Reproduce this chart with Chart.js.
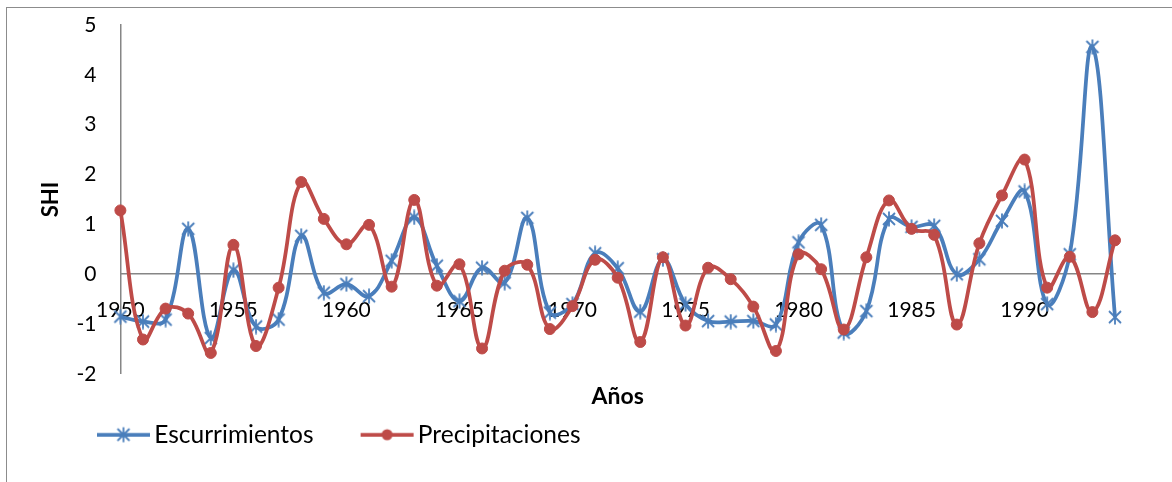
<!DOCTYPE html>
<html lang="es">
<head>
<meta charset="utf-8">
<title>SHI Escurrimientos y Precipitaciones</title>
<script src="https://cdn.jsdelivr.net/npm/chart.js@4.4.1/dist/chart.umd.min.js"></script>
<style>
    body { margin: 0; background: #fff; overflow: hidden; }
    #marco { position: absolute; left: 6px; top: 7px; width: 1300px; height: 600px;
             border-left: 1px solid #8c8c8c; border-top: 1px solid #8c8c8c; }
    #grafico { position: absolute; left: 0; top: 0; }
</style>
</head>
<body>
<div id="marco"></div>
<canvas id="grafico" width="1172" height="482"></canvas>
<script>
// Años de la serie (eje X)
const anios = [
    1950, 1951, 1952, 1953, 1954, 1955, 1956, 1957, 1958, 1959,
    1960, 1961, 1962, 1963, 1964, 1965, 1966, 1967, 1968, 1969,
    1970, 1971, 1972, 1973, 1974, 1975, 1976, 1977, 1978, 1979,
    1980, 1981, 1982, 1983, 1984, 1985, 1986, 1987, 1988, 1989,
    1990, 1991, 1992, 1993, 1994
];

// SHI de escurrimientos
const escurrimientos = [
    -0.85, -0.95, -0.91, 0.91, -1.28, 0.08, -1.05, -0.91, 0.77, -0.37,
    -0.20, -0.44, 0.27, 1.14, 0.17, -0.54, 0.13, -0.17, 1.13, -0.77,
    -0.60, 0.42, 0.12, -0.75, 0.30, -0.60, -0.94, -0.95, -0.94, -1.01,
    0.64, 0.99, -1.17, -0.74, 1.11, 0.95, 0.97, 0.00, 0.30, 1.07,
    1.66, -0.60, 0.40, 4.56, -0.86
];

// SHI de precipitaciones
const precipitaciones = [
    1.28, -1.31, -0.69, -0.79, -1.58, 0.59, -1.44, -0.27, 1.85, 1.11,
    0.60, 0.99, -0.25, 1.49, -0.23, 0.20, -1.49, 0.07, 0.19, -1.10,
    -0.64, 0.29, -0.07, -1.36, 0.34, -1.03, 0.13, -0.10, -0.65, -1.54,
    0.40, 0.10, -1.11, 0.34, 1.48, 0.91, 0.79, -1.01, 0.62, 1.58,
    2.30, -0.27, 0.35, -0.76, 0.68
];

// Marcas del eje Y
const ticksY = [-2, -1, 0, 1, 2, 3, 4, 5];

const azul = '#4A7EBB';
const rojo = '#BE4B48';
const fuente = 'Lato, Carlito, Calibri, sans-serif';

// Marcador tipo asterisco (X con línea vertical), como el de Excel
function crearEstrella(color) {
    const c = document.createElement('canvas');
    c.width = 16;
    c.height = 16;
    const g = c.getContext('2d');
    g.strokeStyle = color;
    g.lineWidth = 1.8;
    g.beginPath();
    g.moveTo(2, 2); g.lineTo(14, 14);
    g.moveTo(14, 2); g.lineTo(2, 14);
    g.moveTo(8, 0.5); g.lineTo(8, 15.5);
    g.stroke();
    return c;
}

// Icono de la leyenda: línea con el marcador en medio.
// La parte izquierda queda transparente para separar las entradas.
function crearIconoLeyenda(color, marcador) {
    const c = document.createElement('canvas');
    c.width = 100;
    c.height = 20;
    const g = c.getContext('2d');
    g.strokeStyle = color;
    g.lineWidth = 3.75;
    g.beginPath();
    g.moveTo(46, 10);
    g.lineTo(99, 10);
    g.stroke();
    if (marcador) {
        g.drawImage(marcador, 72.5 - marcador.width / 2, 10 - marcador.height / 2);
    } else {
        g.fillStyle = color;
        g.beginPath();
        g.arc(72.5, 10, 5.5, 0, Math.PI * 2);
        g.fill();
    }
    return c;
}

const estrella = crearEstrella(azul);
const iconos = [crearIconoLeyenda(azul, estrella), crearIconoLeyenda(rojo, null)];

const ctx = document.getElementById('grafico').getContext('2d');

new Chart(ctx, {
    type: 'line',
    data: {
        labels: anios,
        datasets: [{
            label: 'Escurrimientos',
            data: escurrimientos,
            borderColor: azul,
            backgroundColor: azul,
            borderWidth: 3.75,
            pointStyle: estrella,
            pointRadius: 7,
            tension: 0.4,
            fill: false,
            order: 1
        }, {
            label: 'Precipitaciones',
            data: precipitaciones,
            borderColor: rojo,
            backgroundColor: rojo,
            borderWidth: 3.75,
            pointStyle: 'circle',
            pointRadius: 5.5,
            pointBorderWidth: 1,
            tension: 0.4,
            fill: false,
            order: 0 // los puntos rojos quedan encima
        }]
    },
    options: {
        responsive: false,
        animation: false,
        devicePixelRatio: 1,
        layout: { padding: { top: 25, right: 57, bottom: 25, left: 50 } },
        plugins: {
            tooltip: { enabled: false },
            legend: {
                position: 'bottom',
                align: 'start',
                labels: {
                    usePointStyle: true,
                    pointStyleWidth: 82,
                    padding: 10,
                    color: '#000',
                    font: { family: fuente, size: 24.5 },
                    sort: (a, b) => a.datasetIndex - b.datasetIndex,
                    generateLabels: (chart) => {
                        const items = Chart.defaults.plugins.legend.labels.generateLabels(chart);
                        items.forEach(item => { item.pointStyle = iconos[item.datasetIndex]; });
                        return items;
                    }
                }
            }
        },
        scales: {
            // eje de categorías cruzando en SHI = 0
            x: {
                type: 'category',
                position: { y: 0 },
                offset: false,
                grid: { display: false, drawTicks: false },
                border: { display: true, color: '#868686', width: 1.5 },
                ticks: {
                    autoSkip: false,
                    maxRotation: 0,
                    padding: 23,
                    color: '#000',
                    font: { family: fuente, size: 21 },
                    callback: function (valor) {
                        const anio = this.getLabelForValue(valor);
                        return anio % 5 === 0 ? String(anio) : '';
                    }
                }
            },
            // solo lleva el título "Años" debajo del gráfico
            x2: {
                type: 'category',
                position: 'bottom',
                grid: { display: false, drawTicks: false },
                border: { display: false },
                ticks: { display: false },
                title: {
                    display: true,
                    text: 'Años',
                    color: '#000',
                    font: { family: fuente, size: 23, weight: 'bold' },
                    padding: { top: 9, bottom: 2 }
                }
            },
            y: {
                min: ticksY[0],
                max: ticksY[ticksY.length - 1],
                afterBuildTicks: (eje) => { eje.ticks = ticksY.map(v => ({ value: v })); },
                // el "5" puede sobresalir por arriba del área del gráfico
                afterFit: (eje) => { eje.paddingTop = 0; eje.paddingBottom = 0; },
                grid: { display: false, drawTicks: false },
                border: { display: true, color: '#868686', width: 1.5 },
                ticks: {
                    padding: 24,
                    color: '#000',
                    font: { family: fuente, size: 21 }
                },
                title: {
                    display: true,
                    text: 'SHI',
                    color: '#000',
                    font: { family: fuente, size: 22, weight: 'bold' },
                    padding: { top: -12, bottom: -12 }
                }
            }
        }
    }
});
</script>
</body>
</html>
